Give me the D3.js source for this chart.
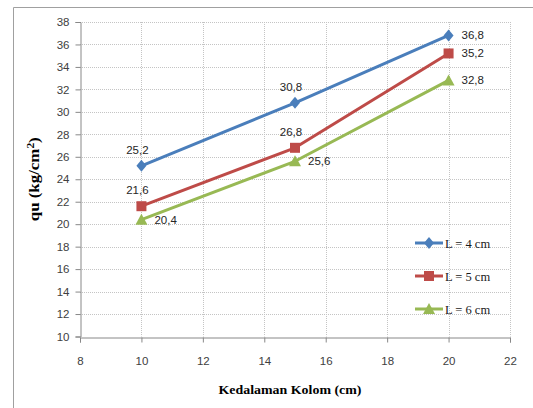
<!DOCTYPE html>
<html><head><meta charset="utf-8">
<script src="https://cdn.jsdelivr.net/npm/d3@7"></script>
<style>body{margin:0;background:#fff}svg{display:block}</style>
</head><body>
<svg id="c" width="533" height="408"></svg>
<script>
const depths = [10, 15, 20];
const seriesNames = ["L = 4 cm", "L = 5 cm", "L = 6 cm"];
const valuesL4 = [25.2, 30.8, 36.8];
const valuesL5 = [21.6, 26.8, 35.2];
const valuesL6 = [20.4, 25.6, 32.8];
const labelPos = [["top","top","right"],["top","top","right"],["right","right","right"]];
const xTicks = [8,10,12,14,16,18,20,22];
const yTicks = [10,12,14,16,18,20,22,24,26,28,30,32,34,36,38];
const colors = ["#4A7EBB", "#BE4B48", "#98B954"];
const markers = ["diamond", "square", "triangle"];

const series = [valuesL4, valuesL5, valuesL6].map((v, i) => ({
  name: seriesNames[i], color: colors[i], marker: markers[i],
  pts: depths.map((d, j) => ({x: d, y: v[j], pos: labelPos[i][j]}))
}));

const svg = d3.select("#c");
const L = 80, R = 510, T = 22, B = 336.5;
const x = d3.scaleLinear().domain([8, 22]).range([L, R]);
const y = d3.scaleLinear().domain([10, 38]).range([B, T]);

// outer frame
svg.append("path").attr("d", `M13.5,408 V7.5 H533`).attr("fill","none").attr("stroke","#a0a0a0").attr("stroke-width",1);

// grid
const g = svg.append("g");
g.selectAll(".hg").data(yTicks.slice(1)).join("line")
  .attr("x1", L).attr("x2", R).attr("y1", d => Math.round(y(d))+0.5).attr("y2", d => Math.round(y(d))+0.5)
  .attr("stroke", "#c4c4c4").attr("stroke-dasharray", "1,1");
g.selectAll(".vg").data(xTicks.slice(1)).join("line")
  .attr("y1", T).attr("y2", B).attr("x1", d => Math.round(x(d))+0.5).attr("x2", d => Math.round(x(d))+0.5)
  .attr("stroke", "#c4c4c4").attr("stroke-dasharray", "1,1");

// axes
const xAxis = d3.axisBottom(x).tickValues(xTicks).tickSize(5).tickPadding(14).tickFormat(d3.format("d"));
const yAxis = d3.axisLeft(y).tickValues(yTicks).tickSize(5).tickPadding(6).tickFormat(d3.format("d"));
const gx = svg.append("g").attr("transform", `translate(0,${Math.round(B)+0.5})`).call(xAxis);
const gy = svg.append("g").attr("transform", `translate(${L+0.5},0)`).call(yAxis);
[gx, gy].forEach(a => {
  a.select(".domain").attr("stroke", "#888");
  a.selectAll(".tick line").attr("stroke", "#888");
  a.selectAll("text").attr("fill", "#404040").style("font-family", "'Liberation Sans', Arial, sans-serif").style("font-size", "11.5px");
});
gx.selectAll(".tick line").attr("y1", 0);

// axis titles
svg.append("text").attr("x", 290).attr("y", 394).attr("text-anchor", "middle")
  .style("font-family", "'Liberation Serif', 'Times New Roman', serif").style("font-weight", "bold").style("font-size", "13.5px")
  .attr("textLength", 143).attr("lengthAdjust", "spacingAndGlyphs")
  .text("Kedalaman Kolom (cm)");
const yt = svg.append("text").attr("transform", `translate(39,${(T+B)/2}) rotate(-90)`).attr("text-anchor", "middle")
  .style("font-family", "'Liberation Serif', 'Times New Roman', serif").style("font-weight", "bold").style("font-size", "14px")
  .attr("textLength", 84).attr("lengthAdjust", "spacingAndGlyphs");
yt.append("tspan").text("qu (kg/cm");
yt.append("tspan").attr("dy", -5).style("font-size", "9.5px").text("2");
yt.append("tspan").attr("dy", 5).text(")");

const line = d3.line().x(d => x(d.x)).y(d => y(d.y));
function markerPath(type, cx, cy) {
  if (type === "diamond") return `M${cx},${cy-6}L${cx+5},${cy}L${cx},${cy+6}L${cx-5},${cy}Z`;
  if (type === "square") return `M${cx-5},${cy-5}h10v10h-10Z`;
  return `M${cx},${cy-6}L${cx+6},${cy+5}L${cx-6},${cy+5}Z`;
}

const sg = svg.append("g").selectAll("g").data(series).join("g");
sg.append("path").attr("d", d => line(d.pts)).attr("fill", "none")
  .attr("stroke", d => d.color).attr("stroke-width", 3).attr("stroke-linejoin", "round");
sg.each(function(s) {
  const gg = d3.select(this);
  gg.selectAll("path.m").data(s.pts).join("path").attr("class", "m")
    .attr("d", p => markerPath(s.marker, x(p.x), y(p.y))).attr("fill", s.color);
  gg.selectAll("text").data(s.pts).join("text")
    .attr("x", p => p.pos === "top" ? x(p.x) - 4 : x(p.x) + 13)
    .attr("y", p => p.pos === "top" ? y(p.y) - 12 : y(p.y) + 4)
    .attr("text-anchor", p => p.pos === "top" ? "middle" : "start")
    .attr("fill", "#262626")
    .style("font-family", "'Liberation Sans', Arial, sans-serif").style("font-size", "11.5px")
    .text(p => d3.format(".1f")(p.y).replace(".", ","));
});

// legend
const lg = svg.append("g").selectAll("g").data(series).join("g")
  .attr("transform", (d, i) => `translate(415,${243 + i * 33})`);
lg.append("line").attr("x1", 0).attr("x2", 28).attr("stroke", d => d.color).attr("stroke-width", 3);
lg.append("path").attr("d", d => markerPath(d.marker, 14, 0)).attr("fill", d => d.color);
lg.append("text").attr("x", 30).attr("y", 4.5).attr("fill", "#1a1a1a")
  .style("font-family", "'Liberation Serif', 'Times New Roman', serif").style("font-size", "12.5px")
  .text(d => d.name);
</script>
</body></html>
